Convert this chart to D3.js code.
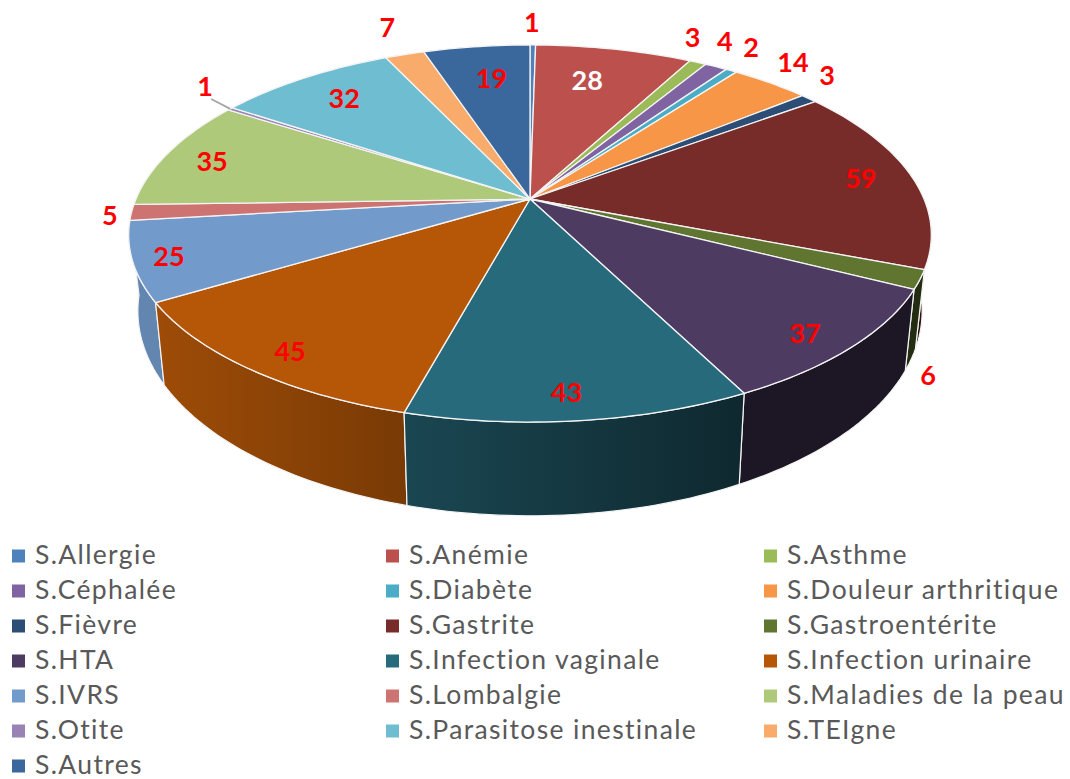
<!DOCTYPE html>
<html><head><meta charset="utf-8">
<script src="https://cdnjs.cloudflare.com/ajax/libs/d3/7.8.5/d3.min.js"></script>
<style>html,body{margin:0;padding:0;background:#fff;overflow:hidden}svg{display:block}</style>
</head><body><svg id="c" width="1070" height="779"></svg>
<script>
const categories = ["S.Allergie","S.Anémie","S.Asthme","S.Céphalée","S.Diabète","S.Douleur arthritique","S.Fièvre","S.Gastrite","S.Gastroentérite","S.HTA","S.Infection vaginale","S.Infection urinaire","S.IVRS","S.Lombalgie","S.Maladies de la peau","S.Otite","S.Parasitose inestinale","S.TEIgne","S.Autres"];
const values = [1,28,3,4,2,14,3,59,6,37,43,45,25,5,35,1,32,7,19];
const colors = ["#4f81bd","#bc504d","#9bbb59","#8064a2","#4bacc6","#f79646","#2c4d75","#772c2a","#5f7530","#4d3b62","#276a7c","#b65708","#729aca","#cd7371","#afc97a","#9983b5","#6fbdd1","#f9ab6b","#3a679c"];
// label placement in the plane of the disc: radius (1 = rim) and turn in degrees from the slice's middle
const labelRadius = [1.18,.756,1.171,1.188,1.188,1.164,1.16,.865,1.184,.891,.89,.894,.914,1.052,.867,1.165,.81,1.22,.76];
const labelTurn = [-.2,-2,-4.7,-3.3,-2,-2,-4,0,19.8,1.5,.9,-1.1,-.1,-.7,-1,3.8,.4,.8,.8];
const labelColors = values.map((v,i)=> i===1 ? "#ffffff" : "#ff0000");
const legendColumns = [12,386,764];

const svg = d3.select("#c");
const defs = svg.append("defs");

// perspective projection of the top and bottom discs
const cx=530, perspX=.19, perspY=.183;
const planes = {
  top:{R:394, a:145.8, b:199},
  bottom:{R:385, a:149.7, b:271.7}
};
function project(th,r,plane){
  const X=r*Math.sin(th), Y=-r*Math.cos(th), p=planes[plane];
  return [cx+p.R*X/(1-perspX*Y), (p.a*Y+p.b)/(1-perspY*Y)];
}
function arcPts(a0,a1,plane){
  const n=Math.max(2,Math.ceil((a1-a0)/.02));
  return d3.range(n+1).map(i=>project(a0+(a1-a0)*i/n,1,plane));
}
const line=d3.line();
const arcs=d3.pie().sort(null).value(d=>d)(values);
const shade=d3.scaleLinear().domain([165,737]).range([.87,.38]).clamp(true);
function wallColor(c,k){const o=d3.rgb(c);return d3.rgb(o.r*k,o.g*k,o.b*k).formatHex();}

// side walls, back to front
const order=arcs.map((d,i)=>({d,i,depth:-Math.cos((d.startAngle+d.endAngle)/2)})).sort((a,b)=>a.depth-b.depth);
order.forEach(({d,i})=>{
  const t=arcPts(d.startAngle,d.endAngle,"top"), b=arcPts(d.startAngle,d.endAngle,"bottom");
  const xs=t.concat(b).map(p=>p[0]);
  const x1=d3.min(xs), x2=d3.max(xs);
  const g=defs.append("linearGradient").attr("id","w"+i).attr("gradientUnits","userSpaceOnUse")
    .attr("x1",x1).attr("x2",x2).attr("y1",0).attr("y2",0);
  g.append("stop").attr("offset",0).attr("stop-color",wallColor(colors[i],shade(x1)));
  g.append("stop").attr("offset",1).attr("stop-color",wallColor(colors[i],shade(x2)));
  svg.append("path").attr("d",line(t.concat(b.reverse()))+"Z")
    .attr("fill","url(#w"+i+")").attr("stroke","#f4f4f4").attr("stroke-width",1.2).attr("stroke-linejoin","round");
});

// top surface
const apex=[cx,planes.top.b];
arcs.forEach((d,i)=>{
  svg.append("path").attr("d",line([apex].concat(arcPts(d.startAngle,d.endAngle,"top")))+"Z")
    .attr("fill",colors[i]).attr("stroke","#f4f4f4").attr("stroke-width",1.3).attr("stroke-linejoin","round");
});

// leader line for the small Otite slice
{
  const d=arcs[15], m=(d.startAngle+d.endAngle)/2, p0=project(m,1,"top"), p1=project(m+3.8*Math.PI/180*.3,1.09,"top");
  svg.append("line").attr("x1",p0[0]).attr("y1",p0[1]).attr("x2",p1[0]).attr("y2",p1[1])
    .attr("stroke","#a6a6a6").attr("stroke-width",1.8);
}

// value labels
arcs.forEach((d,i)=>{
  const m=(d.startAngle+d.endAngle)/2+labelTurn[i]*Math.PI/180;
  const p=project(m,labelRadius[i],"top");
  svg.append("text").attr("x",p[0]).attr("y",p[1]).attr("dy",".36em").attr("text-anchor","middle")
    .attr("font-family","Lato, sans-serif").attr("font-weight",700).attr("font-size",27)
    .attr("fill",labelColors[i]).text(values[i]);
});

// legend
categories.forEach((c,i)=>{
  const col=i%3, row=Math.floor(i/3), x=legendColumns[col], y=555+row*35;
  svg.append("rect").attr("x",x).attr("y",y-5.5).attr("width",13).attr("height",13).attr("fill",colors[i]);
  svg.append("text").attr("x",x+23).attr("y",y).attr("dy",".33em")
    .attr("font-family","Lato, sans-serif").attr("font-size",26.5).attr("letter-spacing","1.35px")
    .attr("fill","#595959").text(c);
});
</script></body></html>
